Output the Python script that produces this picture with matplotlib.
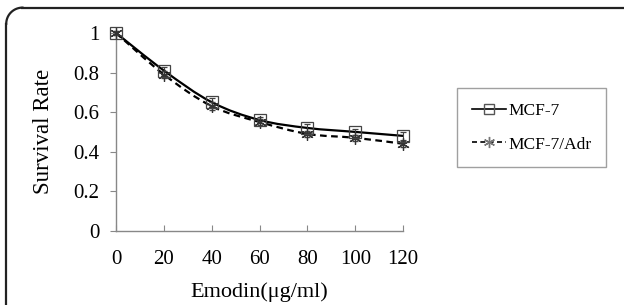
import numpy as np
import matplotlib.pyplot as plt
from matplotlib.path import Path
from matplotlib.patches import PathPatch
from matplotlib.lines import Line2D

plt.rcParams['font.family'] = ['Liberation Serif', 'DejaVu Serif']

# Data
dose = [0, 20, 40, 60, 80, 100, 120]
mcf7 = [1.00, 0.81, 0.65, 0.56, 0.52, 0.50, 0.48]
mcf7_err = [0.01, 0.02, 0.02, 0.015, 0.02, 0.015, 0.02]
mcf7_adr = [1.00, 0.79, 0.63, 0.55, 0.49, 0.47, 0.44]
adr_err = [0.01, 0.02, 0.02, 0.015, 0.015, 0.015, 0.015]
labels = ['MCF-7', 'MCF-7/Adr']


def smooth_path(x, y):
    # Catmull-Rom style bezier through the points (like Excel's smoothed line)
    x = np.asarray(x, float)
    y = np.asarray(y, float)
    verts = [(x[0], y[0])]
    codes = [Path.MOVETO]
    n = len(x)
    for i in range(n - 1):
        p0 = (x[max(i - 1, 0)], y[max(i - 1, 0)])
        p1 = (x[i], y[i])
        p2 = (x[i + 1], y[i + 1])
        p3 = (x[min(i + 2, n - 1)], y[min(i + 2, n - 1)])
        c1 = (p1[0] + (p2[0] - p0[0]) / 6, p1[1] + (p2[1] - p0[1]) / 6)
        c2 = (p2[0] - (p3[0] - p1[0]) / 6, p2[1] - (p3[1] - p1[1]) / 6)
        verts += [c1, c2, p2]
        codes += [Path.CURVE4] * 3
    return Path(verts, codes)


fig = plt.figure(figsize=(6.24, 3.05), dpi=100)
ax = fig.add_axes([0.186, 0.243, 0.46, 0.649])

ax.add_patch(PathPatch(smooth_path(dose, mcf7), fill=False, color='black', lw=1.6,
                       clip_on=False))
ax.add_patch(PathPatch(smooth_path(dose, mcf7_adr), fill=False, color='black', lw=1.6,
                       linestyle=(0, (3, 2)), clip_on=False))

ax.errorbar(dose, mcf7, yerr=mcf7_err, fmt='s', ms=8, mfc='none', mec='#444444',
            ecolor='#444444', elinewidth=0.8, capsize=2.5, mew=0.9, zorder=3,
            clip_on=False)
ax.errorbar(dose, mcf7_adr, yerr=adr_err, fmt='none', ecolor='#444444',
            elinewidth=0.8, capsize=2.5, zorder=3, clip_on=False)
ax.plot(dose, mcf7_adr, linestyle='none', marker=(6, 2, 0), ms=9, mec='#333333',
        mew=0.9, zorder=3, clip_on=False)

ax.set_xlim(0, 120)
ax.set_ylim(0, 1)
ax.set_xticks(dose)
ax.set_yticks([0, 0.2, 0.4, 0.6, 0.8, 1])
ax.set_yticklabels(['0', '0.2', '0.4', '0.6', '0.8', '1'])
for s in ['top', 'right']:
    ax.spines[s].set_visible(False)
for s in ['left', 'bottom']:
    ax.spines[s].set_color('#888888')
    ax.spines[s].set_linewidth(1.0)
ax.tick_params(axis='x', direction='in', length=4, color='#888888', labelsize=15, pad=14)
ax.tick_params(axis='y', direction='out', length=4, color='#888888', labelsize=15, pad=8)
ax.set_xlabel('Emodin(μg/ml)', fontsize=16, labelpad=9)
ax.set_ylabel('Survival Rate', fontsize=16.5, labelpad=14)

h1 = Line2D([], [], color='black', lw=1.2, marker='s', ms=7, mfc='none', mec='#555555')
h2 = Line2D([], [], color='black', lw=1.2, linestyle=(0, (3, 2)), marker=(6, 2, 0), ms=8,
            mec='#777777')
leg = fig.legend([h1, h2], labels, loc='upper left', bbox_to_anchor=(0.732, 0.711),
                 borderaxespad=0, fontsize=12.5, frameon=True, fancybox=False,
                 handlelength=2.0, handletextpad=0.1, labelspacing=1.0, borderpad=0.85)
leg.get_frame().set_edgecolor('#888888')
leg.get_frame().set_linewidth(1.0)

# outer frame: top and left edges with rounded corner
x0, y0 = 0.010, 0.975
rx, ry = 0.026, 0.053
fig.add_artist(Line2D([x0, x0], [0.0, y0 - ry], color='#222222', lw=1.6,
                      transform=fig.transFigure))
fig.add_artist(Line2D([x0 + rx, 1.0], [y0, y0], color='#222222', lw=1.6,
                      transform=fig.transFigure))
t = np.linspace(np.pi / 2, np.pi, 20)
fig.add_artist(Line2D(x0 + rx + rx * np.cos(t), y0 - ry + ry * np.sin(t),
                      color='#222222', lw=1.6, transform=fig.transFigure))

fig.savefig('out.png', dpi=100)
